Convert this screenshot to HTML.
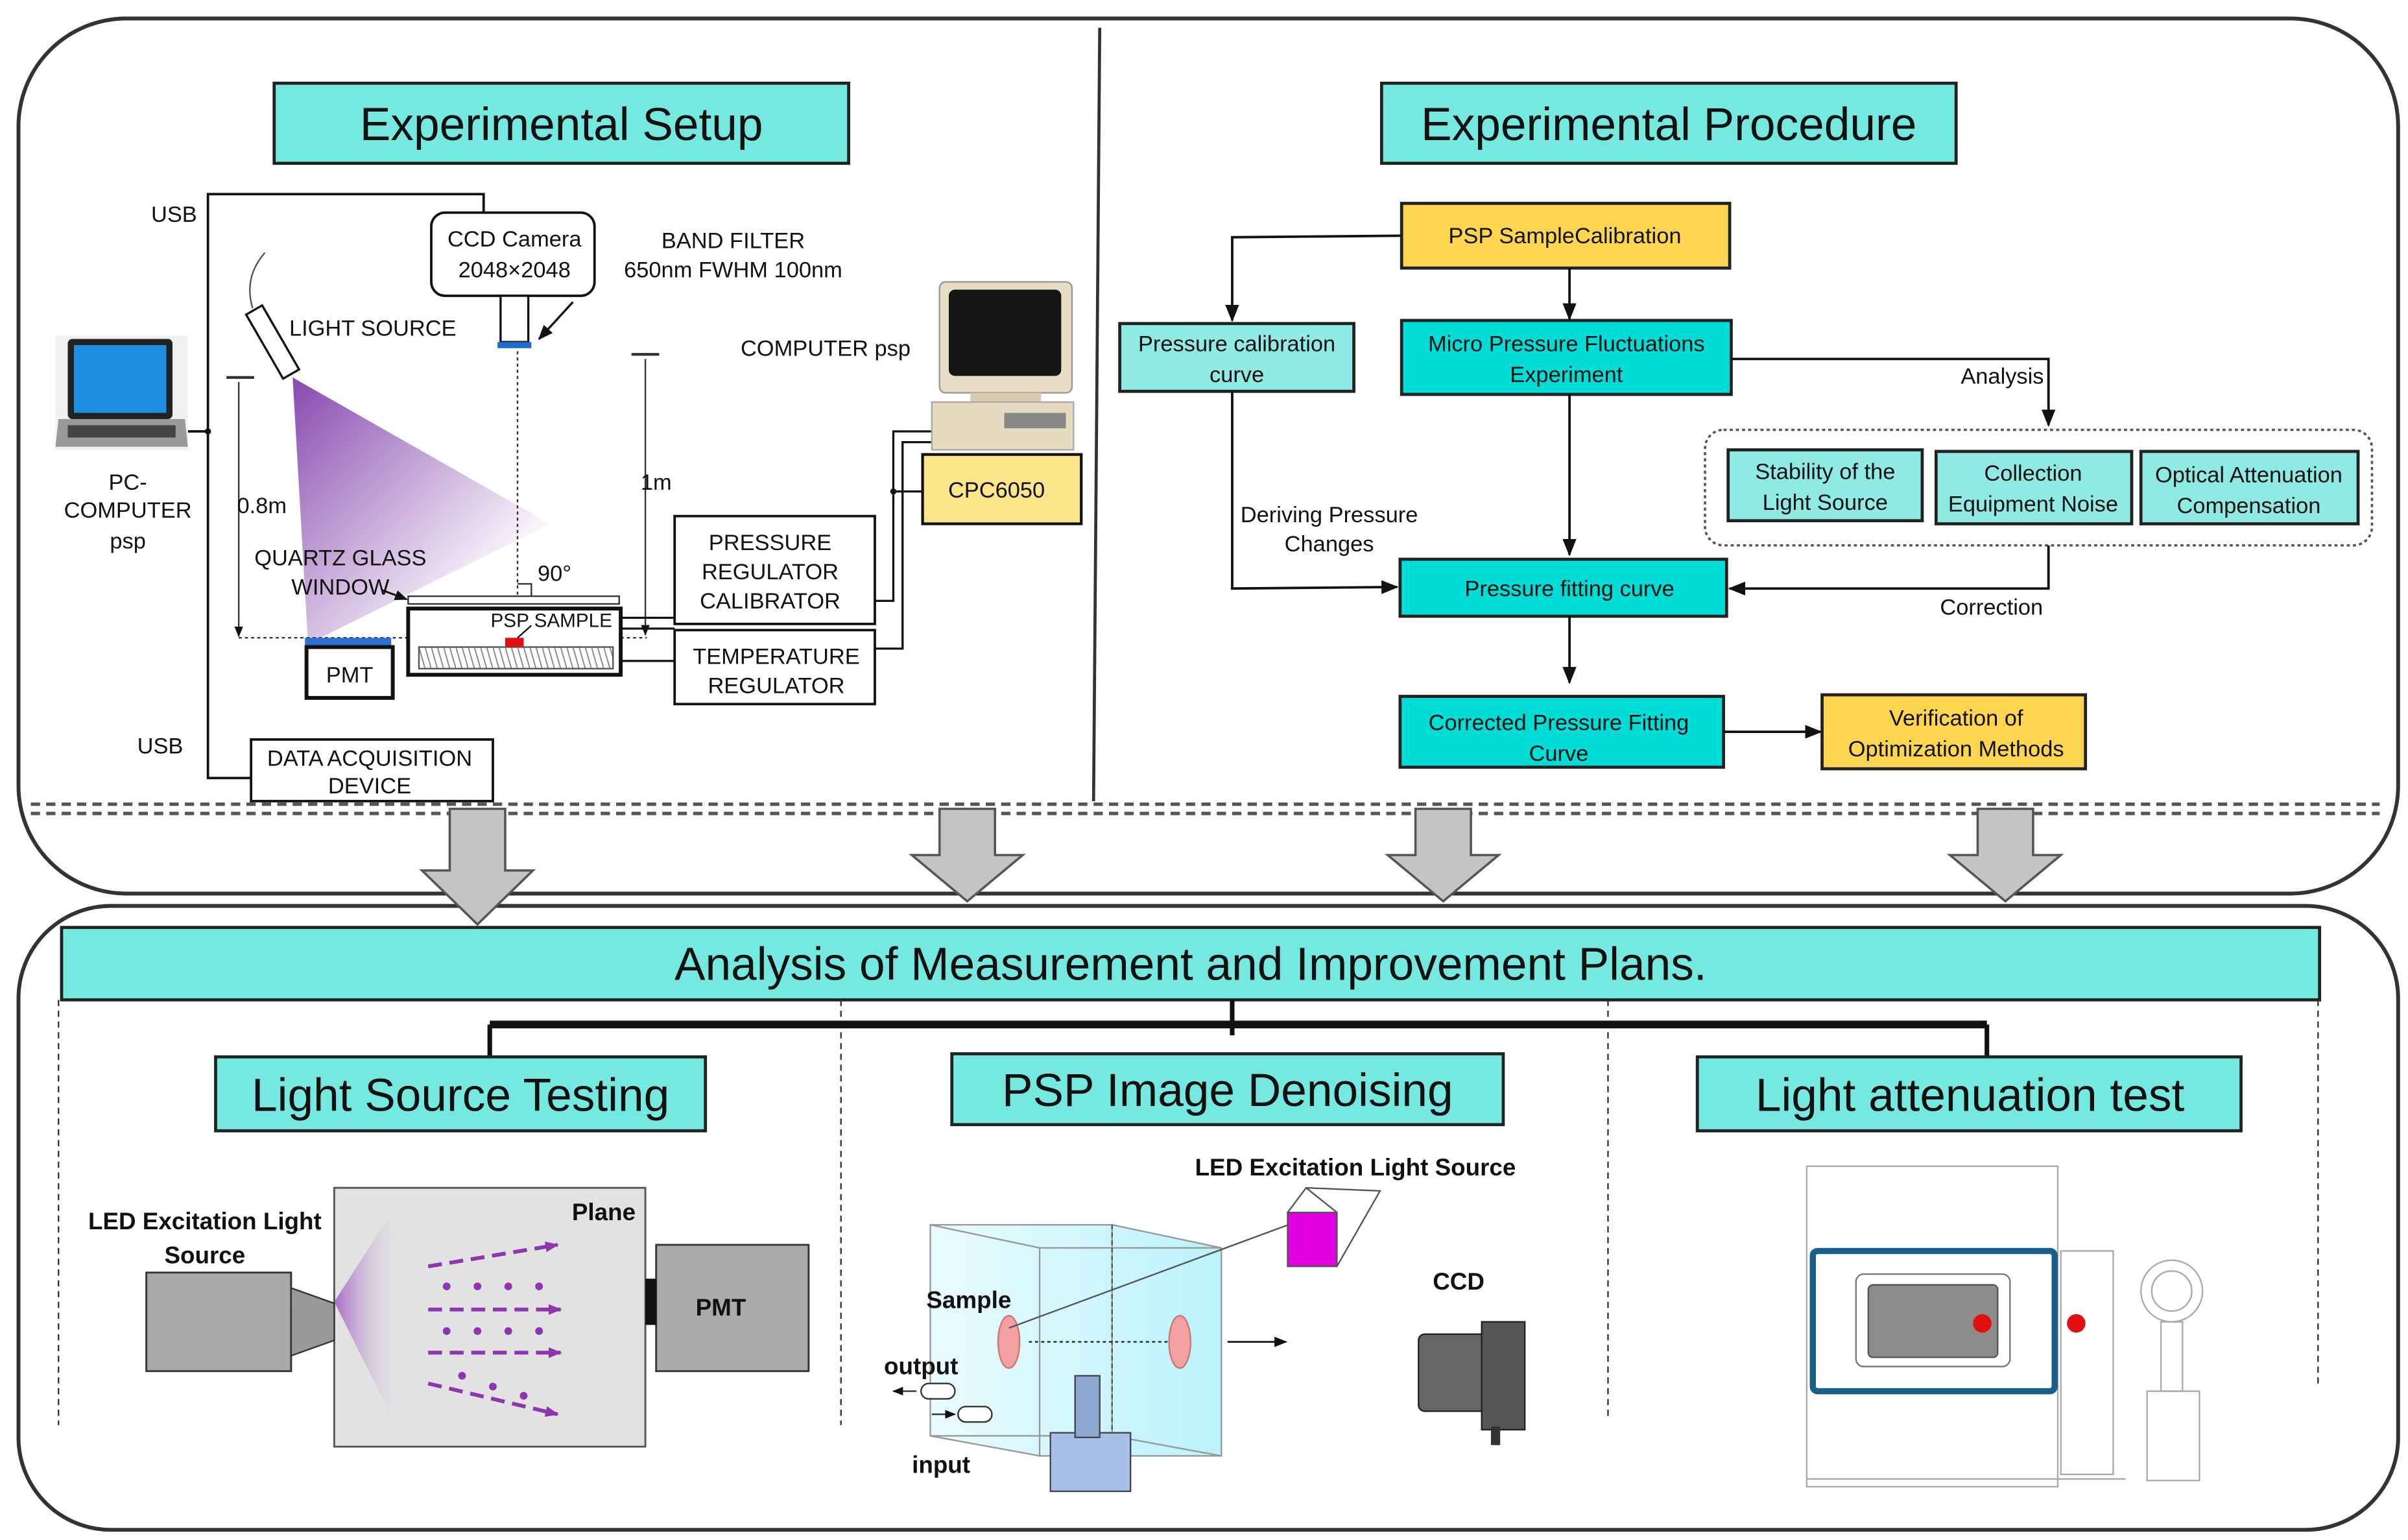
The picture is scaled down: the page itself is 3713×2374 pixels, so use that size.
<!DOCTYPE html>
<html><head><meta charset="utf-8"><style>
html,body{margin:0;padding:0;background:#fff;}
svg{display:block;}
text{font-family:"Liberation Sans",sans-serif;fill:#111;}
</style></head><body>
<svg width="3713" height="2374" viewBox="0 0 1563.4 999.6" preserveAspectRatio="none" xmlns="http://www.w3.org/2000/svg">
<defs>
<marker id="ar" viewBox="0 0 10 10" refX="9" refY="5" markerWidth="7" markerHeight="7" orient="auto"><path d="M0,1 L10,5 L0,9 z" fill="#111"/></marker>
<marker id="ap" viewBox="0 0 10 10" refX="9" refY="5" markerWidth="3.5" markerHeight="3.5" orient="auto"><path d="M0,1 L10,5 L0,9 z" fill="#8e35b0"/></marker>
<linearGradient id="cone" x1="0" y1="0" x2="1" y2="1"><stop offset="0" stop-color="#6a1b9a"/><stop offset="0.8" stop-color="#6a1b9a" stop-opacity="0"/></linearGradient>
<linearGradient id="cone2" x1="0" y1="0" x2="1" y2="0"><stop offset="0" stop-color="#9c4fc0"/><stop offset="1" stop-color="#e8e8e8" stop-opacity="0"/></linearGradient>
<linearGradient id="cube" x1="0" y1="0" x2="1" y2="0"><stop offset="0" stop-color="#e6fbff"/><stop offset="1" stop-color="#aef0fa"/></linearGradient>
<pattern id="hatch" width="8" height="14" patternUnits="userSpaceOnUse"><path d="M0,0 L4,14 M4,0 L8,14" stroke="#888" stroke-width="0.8"/></pattern>
</defs>
<rect width="1563.4" height="999.6" fill="#fff"/>
<path d="M82,12 H1487 A70,70 0 0 1 1557,82 V510 A70,70 0 0 1 1487,580 H82 A70,70 0 0 1 12,510 V82 A70,70 0 0 1 82,12 Z" fill="none" stroke="#333" stroke-width="2.5"/>
<path d="M72,588 H1497 A60,60 0 0 1 1557,648 V933 A60,60 0 0 1 1497,993 H72 A60,60 0 0 1 12,933 V648 A60,60 0 0 1 72,588 Z" fill="#fff" stroke="#333" stroke-width="2.5"/>
<line x1="714" y1="18" x2="710" y2="520" stroke="#333" stroke-width="2"/>
<line x1="20" y1="522" x2="1545" y2="522" stroke="#555" stroke-width="2.2" stroke-dasharray="6,4"/>
<line x1="20" y1="528" x2="1545" y2="528" stroke="#555" stroke-width="2.2" stroke-dasharray="6,4"/>
<g fill="#c4c4c4" stroke="#555" stroke-width="1.5">
<path d="M292,525 H328 V565 H346 L310,600 L274,565 H292 Z"/>
<path d="M610,525 H646 V555 H664 L628,585 L592,555 H610 Z"/>
<path d="M919,525 H955 V555 H973 L937,585 L901,555 H919 Z"/>
<path d="M1284,525 H1320 V555 H1338 L1302,585 L1266,555 H1284 Z"/>
</g>
<rect x="178" y="54" width="373" height="52" fill="#75e8e0" stroke="#222" stroke-width="2"/>
<text x="364.5" y="91" font-size="30" text-anchor="middle">Experimental Setup</text>
<rect x="897" y="54" width="373" height="52" fill="#75e8e0" stroke="#222" stroke-width="2"/>
<text x="1083.5" y="91" font-size="30" text-anchor="middle">Experimental Procedure</text>

<g font-size="14.5" text-anchor="middle">
<rect x="910" y="132" width="213" height="42" fill="#fdd54e" stroke="#222" stroke-width="2"/>
<text x="1016" y="158">PSP SampleCalibration</text>
<rect x="727" y="210" width="152" height="44" fill="#8eeae3" stroke="#222" stroke-width="2"/>
<text x="803" y="228">Pressure calibration</text><text x="803" y="248">curve</text>
<rect x="910" y="208" width="214" height="48" fill="#00dcd6" stroke="#222" stroke-width="2"/>
<text x="1017" y="228">Micro Pressure Fluctuations</text><text x="1017" y="248">Experiment</text>
<rect x="1107" y="279" width="433" height="75" rx="12" fill="none" stroke="#555" stroke-width="1.5" stroke-dasharray="2,2"/>
<rect x="1122" y="292" width="126" height="46" fill="#8eeae3" stroke="#222" stroke-width="2"/>
<text x="1185" y="311">Stability of the</text><text x="1185" y="331">Light Source</text>
<rect x="1257" y="293" width="127" height="47" fill="#8eeae3" stroke="#222" stroke-width="2"/>
<text x="1320" y="312">Collection</text><text x="1320" y="332">Equipment Noise</text>
<rect x="1390" y="293" width="141" height="47" fill="#8eeae3" stroke="#222" stroke-width="2"/>
<text x="1460" y="313">Optical Attenuation</text><text x="1460" y="333">Compensation</text>
<rect x="909" y="363" width="212" height="37" fill="#00dcd6" stroke="#222" stroke-width="2"/>
<text x="1019" y="387">Pressure fitting curve</text>
<rect x="909" y="452" width="210" height="46" fill="#00dcd6" stroke="#222" stroke-width="2"/>
<text x="1012" y="474">Corrected Pressure Fitting</text><text x="1012" y="494">Curve</text>
<rect x="1183" y="451" width="171" height="48" fill="#fdd54e" stroke="#222" stroke-width="2"/>
<text x="1270" y="471">Verification of</text><text x="1270" y="491">Optimization Methods</text>
<text x="1300" y="249">Analysis</text>
<text x="863" y="339">Deriving Pressure</text><text x="863" y="358">Changes</text>
<text x="1293" y="399">Correction</text>
</g>
<g stroke="#111" stroke-width="1.6" fill="none">
<polyline points="910,153 800,154 800,208" marker-end="url(#ar)"/>
<line x1="1019" y1="174" x2="1019" y2="207" marker-end="url(#ar)"/>
<polyline points="1124,233 1330,233 1330,276" marker-end="url(#ar)"/>
<line x1="1019" y1="256" x2="1019" y2="360" marker-end="url(#ar)"/>
<polyline points="800,254 800,382 907,381" marker-end="url(#ar)"/>
<polyline points="1330,354 1330,382 1123,382" marker-end="url(#ar)"/>
<line x1="1019" y1="400" x2="1019" y2="443" marker-end="url(#ar)"/>
<line x1="1119" y1="475" x2="1182" y2="475" marker-end="url(#ar)"/>
</g>

<!-- Setup diagram shapes -->
<g stroke="#111" stroke-width="1.6" fill="none">
<polyline points="314,138 314,126 135,126 135,505 163,505"/>
<line x1="122" y1="280" x2="135" y2="280"/>
</g>
<circle cx="135" cy="280" r="2" fill="#111"/>
<rect x="36" y="218" width="86" height="74" fill="#f0f0f0"/>
<rect x="44" y="220" width="68" height="52" rx="3" fill="#222"/>
<rect x="48" y="224" width="60" height="44" fill="#1d8fe0"/>
<path d="M38,272 H120 L122,290 H36 Z" fill="#9a9a9a"/>
<rect x="44" y="276" width="70" height="8" fill="#444"/>
<rect x="280" y="138" width="106" height="54" rx="9" fill="#fff" stroke="#111" stroke-width="1.6"/>
<rect x="325" y="192" width="18" height="30" fill="#fff" stroke="#111" stroke-width="1.4"/>
<rect x="323" y="222" width="22" height="4" fill="#1e6ad0"/>
<line x1="372" y1="196" x2="350" y2="220" stroke="#111" stroke-width="1.4" marker-end="url(#ar)"/>
<path d="M357,340 L190,245 L200,418 Z" fill="url(#cone)" opacity="0.8"/>
<path d="M172,164 Q158,180 164,200" fill="none" stroke="#555" stroke-width="1"/>
<g transform="rotate(-30 177 222)"><rect x="171" y="198" width="12" height="48" fill="#fff" stroke="#111" stroke-width="1.4"/></g>
<g stroke="#333" stroke-width="1" fill="none">
<line x1="147" y1="245" x2="165" y2="245" stroke-width="1.8"/>
<line x1="155" y1="248" x2="155" y2="413" marker-end="url(#ar)"/>
<line x1="410" y1="230" x2="428" y2="230" stroke-width="1.8"/>
<line x1="419" y1="233" x2="419" y2="412" marker-end="url(#ar)"/>
<line x1="155" y1="414" x2="420" y2="414" stroke-dasharray="2,2"/>
<line x1="336" y1="228" x2="336" y2="388" stroke-dasharray="2,2"/>
<line x1="336" y1="388" x2="395" y2="388" stroke-dasharray="2,2"/>
<polyline points="336,379 345,379 345,388"/>
</g>
<line x1="248" y1="383" x2="264" y2="389" stroke="#111" stroke-width="1.2" marker-end="url(#ar)"/>
<rect x="265" y="387" width="137" height="5" fill="#fff" stroke="#333" stroke-width="1"/>
<rect x="265" y="395" width="138" height="43" fill="#fff" stroke="#111" stroke-width="2.5"/>
<rect x="272" y="420" width="126" height="14" fill="url(#hatch)" stroke="#555" stroke-width="1"/>
<rect x="328" y="414" width="12" height="6" fill="#e01010"/>
<line x1="345" y1="406" x2="336" y2="414" stroke="#111" stroke-width="1"/>
<rect x="198" y="414" width="56" height="6" fill="#2d6fd0"/>
<rect x="199" y="420" width="56" height="33" fill="#fff" stroke="#111" stroke-width="2.5"/>
<rect x="438" y="335" width="130" height="70" fill="#fff" stroke="#111" stroke-width="1.6"/>
<rect x="438" y="409" width="130" height="48" fill="#fff" stroke="#111" stroke-width="1.6"/>
<rect x="599" y="295" width="103" height="45" fill="#fde58a" stroke="#111" stroke-width="1.8"/>
<rect x="163" y="480" width="157" height="40" fill="#fff" stroke="#111" stroke-width="1.6"/>
<g stroke="#111" stroke-width="1.4" fill="none">
<line x1="403" y1="401" x2="438" y2="401"/>
<line x1="403" y1="408" x2="438" y2="408"/>
<line x1="403" y1="429" x2="438" y2="429"/>
<polyline points="568,390 580,390 580,280 605,280"/>
<polyline points="568,421 586,421 586,287 605,287"/>
<line x1="580" y1="319" x2="599" y2="319"/>
</g>
<circle cx="580" cy="319" r="2" fill="#111"/>
<rect x="610" y="183" width="86" height="72" rx="4" fill="#e8dcc4" stroke="#999"/>
<rect x="616" y="188" width="73" height="56" rx="4" fill="#151515"/>
<rect x="630" y="255" width="46" height="6" fill="#d8ccb0"/>
<rect x="605" y="261" width="92" height="31" fill="#e6dac0" stroke="#aaa"/>
<rect x="652" y="268" width="40" height="10" fill="#888"/>
<g font-size="14.5" text-anchor="middle">
<text x="113" y="144">USB</text>
<text x="104" y="489">USB</text>
<text x="83" y="318">PC-</text><text x="83" y="336">COMPUTER</text><text x="83" y="356">psp</text>
<text x="334" y="160">CCD Camera</text><text x="334" y="180">2048×2048</text>
<text x="476" y="161">BAND FILTER</text><text x="476" y="180">650nm FWHM 100nm</text>
<text x="242" y="218">LIGHT SOURCE</text>
<text x="536" y="231">COMPUTER psp</text>
<text x="170" y="333">0.8m</text>
<text x="426" y="318">1m</text>
<text x="221" y="367">QUARTZ GLASS</text><text x="221" y="386">WINDOW</text>
<text x="360" y="377">90°</text>
<text x="358" y="407" font-size="12.5">PSP SAMPLE</text>
<text x="227" y="443">PMT</text>
<text x="500" y="357">PRESSURE</text><text x="500" y="376">REGULATOR</text><text x="500" y="395">CALIBRATOR</text>
<text x="504" y="431">TEMPERATURE</text><text x="504" y="450">REGULATOR</text>
<text x="647" y="323">CPC6050</text>
<text x="240" y="497">DATA ACQUISITION</text><text x="240" y="515">DEVICE</text>
</g>

<!-- Bottom -->
<rect x="40" y="602" width="1466" height="47" fill="#75e8e0" stroke="#222" stroke-width="2"/>
<text x="773" y="636" font-size="30" text-anchor="middle">Analysis of Measurement and Improvement Plans.</text>
<g stroke="#333" stroke-width="1" stroke-dasharray="4,3">
<line x1="38" y1="649" x2="38" y2="925"/><line x1="546" y1="649" x2="546" y2="925"/>
<line x1="1044" y1="649" x2="1044" y2="920"/><line x1="1505" y1="649" x2="1505" y2="900"/>
</g>
<g stroke="#111" fill="none">
<line x1="800" y1="649" x2="800" y2="672" stroke-width="3"/>
<line x1="318" y1="665" x2="1290" y2="665" stroke-width="5"/>
<line x1="318" y1="665" x2="318" y2="686" stroke-width="3"/>
<line x1="1290" y1="665" x2="1290" y2="686" stroke-width="3"/>
</g>
<rect x="140" y="686" width="318" height="48" fill="#75e8e0" stroke="#222" stroke-width="2"/>
<text x="299" y="721" font-size="30" text-anchor="middle">Light Source Testing</text>
<rect x="618" y="684" width="358" height="46" fill="#75e8e0" stroke="#222" stroke-width="2"/>
<text x="797" y="718" font-size="30" text-anchor="middle">PSP Image Denoising</text>
<rect x="1102" y="686" width="353" height="48" fill="#75e8e0" stroke="#222" stroke-width="2"/>
<text x="1279" y="721" font-size="30" text-anchor="middle">Light attenuation test</text>

<rect x="217" y="771" width="202" height="168" fill="#e2e2e2" stroke="#555" stroke-width="1.2"/>
<path d="M217,845 L262,775 L262,935 Z" fill="url(#cone2)" opacity="0.8"/>
<rect x="95" y="826" width="94" height="64" fill="#a8a8a8" stroke="#333" stroke-width="1.2"/>
<path d="M189,836 L217,846 L217,870 L189,880 Z" fill="#999" stroke="#333"/>
<rect x="426" y="808" width="99" height="82" fill="#aaa" stroke="#333" stroke-width="1.2"/>
<rect x="419" y="830" width="7" height="30" fill="#111"/>
<g stroke="#8e35b0" stroke-width="2.5" fill="none" stroke-dasharray="9,5">
<line x1="278" y1="822" x2="362" y2="808" marker-end="url(#ap)"/>
<line x1="278" y1="850" x2="364" y2="850" marker-end="url(#ap)"/>
<line x1="278" y1="878" x2="364" y2="878" marker-end="url(#ap)"/>
<line x1="278" y1="898" x2="362" y2="918" marker-end="url(#ap)"/>
</g>
<g fill="#8e35b0">
<circle cx="290" cy="835" r="2.5"/><circle cx="310" cy="835" r="2.5"/><circle cx="330" cy="835" r="2.5"/><circle cx="350" cy="835" r="2.5"/>
<circle cx="290" cy="864" r="2.5"/><circle cx="310" cy="864" r="2.5"/><circle cx="330" cy="864" r="2.5"/><circle cx="350" cy="864" r="2.5"/>
<circle cx="300" cy="893" r="2.5"/><circle cx="320" cy="900" r="2.5"/><circle cx="340" cy="906" r="2.5"/>
</g>
<path d="M604,795 H722 L793,810 V945 H675 L604,932 Z" fill="url(#cube)" opacity="0.85"/>
<g stroke="#999" stroke-width="1" fill="none">
<rect x="604" y="795" width="118" height="137"/>
<path d="M604,795 L675,810 H793 M675,810 V945 H793 V810 M722,795 L793,810 M604,932 L675,945 M722,932 L793,945"/>
</g>
<line x1="722" y1="795" x2="722" y2="932" stroke="#555" stroke-width="1" stroke-dasharray="3,2"/>
<ellipse cx="655" cy="871" rx="7" ry="17" fill="#f2a0a0" stroke="#c77"/>
<ellipse cx="766" cy="871" rx="7" ry="17" fill="#f2a0a0" stroke="#c77"/>
<line x1="668" y1="871" x2="760" y2="871" stroke="#222" stroke-dasharray="2,2"/>
<line x1="797" y1="871" x2="835" y2="871" stroke="#222" stroke-width="1.2" marker-end="url(#ar)"/>
<line x1="655" y1="862" x2="850" y2="790" stroke="#555" stroke-width="1"/>
<rect x="836" y="787" width="32" height="35" fill="#e000e0" stroke="#555"/>
<path d="M836,787 L848,771 L896,773 L868,822 M848,771 L868,787" fill="none" stroke="#555"/>
<rect x="682" y="930" width="52" height="38" fill="#a8c0e8" stroke="#445"/>
<rect x="698" y="893" width="16" height="40" fill="#8ea8d0" stroke="#445"/>
<rect x="598" y="898" width="22" height="10" rx="5" fill="#fff" stroke="#333"/>
<rect x="622" y="913" width="22" height="10" rx="5" fill="#fff" stroke="#333"/>
<line x1="595" y1="903" x2="580" y2="903" stroke="#333" marker-end="url(#ar)"/>
<line x1="605" y1="918" x2="620" y2="918" stroke="#333" marker-end="url(#ar)"/>
<rect x="921" y="866" width="45" height="50" rx="4" fill="#666" stroke="#222"/>
<rect x="962" y="858" width="28" height="70" fill="#555" stroke="#222"/>
<rect x="968" y="926" width="6" height="12" fill="#333"/>
<g font-size="15.5" font-weight="bold" text-anchor="middle">
<text x="133" y="798">LED Excitation Light</text><text x="133" y="820">Source</text>
<text x="392" y="792">Plane</text>
<text x="468" y="854">PMT</text>
<text x="880" y="763">LED Excitation Light Source</text>
<text x="629" y="849">Sample</text>
<text x="598" y="892">output</text>
<text x="611" y="956">input</text>
<text x="947" y="837">CCD</text>
</g>
<g stroke="#aaa" stroke-width="1" fill="none">
<rect x="1173" y="757" width="163" height="208"/>
<rect x="1338" y="812" width="34" height="145"/>
<circle cx="1410" cy="838" r="20"/><circle cx="1410" cy="838" r="13"/>
<rect x="1403" y="858" width="14" height="45"/>
<rect x="1394" y="903" width="34" height="58"/>
<line x1="1173" y1="960" x2="1380" y2="960"/>
</g>
<rect x="1177" y="812" width="157" height="91" rx="3" fill="#fff" stroke="#1a5f8a" stroke-width="4"/>
<rect x="1205" y="827" width="100" height="60" rx="5" fill="#fff" stroke="#777"/>
<rect x="1213" y="834" width="84" height="47" rx="3" fill="#8c8c8c" stroke="#555"/>
<circle cx="1287" cy="859" r="6" fill="#e01010"/>
<circle cx="1348" cy="859" r="6" fill="#e01010"/>
</svg>
</body></html>
